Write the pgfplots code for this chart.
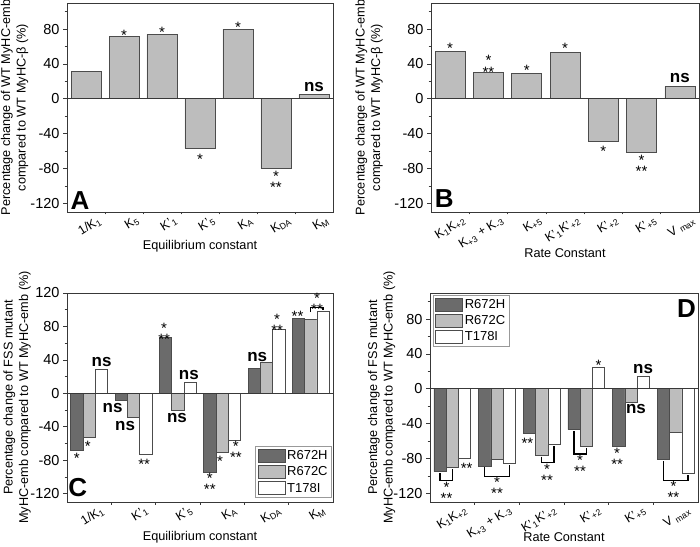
\documentclass[border=0pt]{standalone}
\usepackage{fontspec}
\setmainfont{Liberation Sans}
\usepackage{pgfplots}
\pgfplotsset{compat=1.18}

\definecolor{dk}{gray}{0.42}
\definecolor{lt}{gray}{0.74}
\definecolor{edge}{gray}{0.30}
\definecolor{frame}{gray}{0.22}

\newcommand{\sub}[1]{\textsubscript{#1}}

\tikzset{
  s1/.style={font=\fontsize{15}{15}\selectfont, inner sep=0pt, yshift=-3.2pt},
  s3/.style={font=\fontsize{15}{7.5}\selectfont, inner sep=0pt, align=center, yshift=-3.2pt},
  nsl/.style={font=\fontsize{17}{17}\selectfont\bfseries, inner sep=0pt},
  letter/.style={font=\fontsize{26}{26}\selectfont\bfseries, inner sep=0pt},
  brk/.style={black, line width=1.3pt},
}

\pgfplotsset{
  panel/.style={
    scale only axis, height=209pt, clip=false,
    axis line style={draw=frame, line width=0.8pt},
    tick pos=left, tick align=outside,
    major tick length=4pt, minor tick length=2.5pt,
    xtick style={draw=none},
    minor x tick style={draw=frame, line width=0.7pt},
    ytick style={draw=frame, line width=0.7pt},
    minor y tick style={draw=frame, line width=0.7pt},
    xticklabel style={font=\fontsize{12.5}{12.5}\selectfont, yshift=2.5pt, rotate=32, anchor=north east, inner sep=1pt},
    yticklabel style={font=\fontsize{14.5}{15}\selectfont},
    /pgf/number format/assume math mode=true,
    label style={font=\fontsize{12.7}{15.5}\selectfont},
    ylabel style={align=center, at={(axis description cs:-0.19,0.5)}, anchor=center},
    xlabel style={anchor=center},
  },
  tall/.style={ymin=-130, ymax=110,
    ytick={-120,-80,-40,0,40,80}, minor ytick={-100,-60,-20,20,60,100}},
  single/.style={ybar, bar width=30pt},
  triple/.style={ybar=0pt, bar width=12.3pt,
    legend image code/.code={\draw[##1] (0pt,-6.5pt) rectangle (27pt,6.5pt);},
    legend style={draw=gray!80, line width=0.6pt, fill=white, inner sep=2pt,
      font=\fontsize{13}{14}\selectfont, row sep=1.5pt, cells={anchor=west}}},
}

\begin{document}
\begin{tikzpicture}[x=1pt,y=1pt]
\path[use as bounding box] (0,0) rectangle (700,546);

% ---------------- A ----------------
\begin{axis}[panel, tall, single, at={(67pt,334pt)}, anchor=south west, width=266pt,
  xmin=0.5, xmax=7.5, xtick={1.3,2.3,...,7.3}, minor xtick={1.5,2.5,...,6.5},
  xticklabels={1/K\sub{1}, K\sub{5}, K'\sub{1}, K'\sub{5}, K\sub{A}, K\sub{DA}, K\sub{M}},
  xlabel={Equilibrium constant}, xlabel style={at={(axis description cs:0.5,-0.163)}},
  ylabel={Percentage change of WT MyHC-emb\\compared to WT MyHC-β (\%)},
  ylabel style={at={(axis description cs:-0.197,0.5)}}]
\addplot[fill=lt, draw=edge, line width=0.6pt] coordinates {(1,31) (2,72) (3,74) (4,-57) (5,80) (6,-80) (7,5)};
\draw[frame, line width=0.8pt] (axis cs:0.5,0) -- (axis cs:7.5,0);
\node[s1] at (axis cs:2,77) {*};
\node[s1] at (axis cs:3,80) {*};
\node[s1] at (axis cs:4,-66) {*};
\node[s1] at (axis cs:5,85.5) {*};
\node[s3] at (axis cs:6,-91.5) {*\\**};
\node[nsl] at (axis cs:7,14) {ns};
\node[letter] at (rel axis cs:0.049,0.057) {A};
\end{axis}

% ---------------- B ----------------
\begin{axis}[panel, tall, single, at={(431pt,334pt)}, anchor=south west, width=268pt,
  xmin=0.5, xmax=7.5, xtick={1.3,2.3,...,7.3}, minor xtick={1.5,2.5,...,6.5},
  xticklabels={K\sub{1}K\sub{+2}, K\sub{+3} + K\sub{-3}, K\sub{+5}, K'\sub{1}K'\sub{+2}, K'\sub{+2}, K'\sub{+5}, V \sub{max}},
  xlabel={Rate Constant}, xlabel style={at={(axis description cs:0.5,-0.196)}},
  ylabel={Percentage change of WT MyHC-emb\\compared to WT MyHC-β (\%)},
  ylabel style={at={(axis description cs:-0.231,0.5)}}]
\addplot[fill=lt, draw=edge, line width=0.6pt] coordinates {(1,54) (2,30) (3,29) (4,53) (5,-49) (6,-62) (7,14)};
\draw[frame, line width=0.8pt] (axis cs:0.5,0) -- (axis cs:7.5,0);
\node[s1] at (axis cs:1,62) {*};
\node[s3] at (axis cs:2,41) {*\\**};
\node[s1] at (axis cs:3,36) {*};
\node[s1] at (axis cs:4,62) {*};
\node[s1] at (axis cs:5,-57) {*};
\node[s3] at (axis cs:6,-73) {*\\**};
\node[nsl] at (axis cs:7,24) {ns};
\node[letter] at (rel axis cs:0.049,0.062) {B};
\end{axis}

% ---------------- C ----------------
\begin{axis}[panel, triple, at={(67pt,44pt)}, anchor=south west, width=266pt,
  ymin=-130, ymax=120, ytick={-120,-80,...,120}, minor ytick={-100,-60,...,100},
  xmin=0.5, xmax=6.5, xtick={1.25,2.25,...,6.25}, minor xtick={1.5,2.5,...,5.5},
  xticklabels={1/K\sub{1}, K'\sub{1}, K'\sub{5}, K\sub{A}, K\sub{DA}, K\sub{M}},
  xlabel={Equilibrium constant}, xlabel style={at={(axis description cs:0.5,-0.167)}},
  ylabel={Percentage change of FSS mutant\\MyHC-emb compared to WT MyHC-emb (\%)},
  ylabel style={at={(axis description cs:-0.188,0.5)}},
  legend style={at={(rel axis cs:0.996,0.02)}, anchor=south east}]
\addplot[fill=dk, draw=edge, line width=0.6pt] coordinates {(1,-68) (2,-8) (3,67) (4,-94) (5,30) (6,90)};
\addplot[fill=lt, draw=edge, line width=0.6pt] coordinates {(1,-53) (2,-29) (3,-20) (4,-70) (5,37) (6,88)};
\addplot[fill=white, draw=edge, line width=0.6pt] coordinates {(1,29) (2,-73) (3,13) (4,-56) (5,77) (6,98)};
\legend{R672H, R672C, T178I}
\draw[frame, line width=0.8pt] (axis cs:0.5,0) -- (axis cs:6.5,0);
\node[s1] at (axis cs:0.72,-74) {*};
\node[s1] at (axis cs:0.97,-59) {*};
\node[nsl] at (axis cs:1.28,38) {ns};
\node[nsl] at (axis cs:1.53,-17) {ns};
\node[nsl] at (axis cs:1.81,-39.5) {ns};
\node[s1] at (axis cs:2.24,-81) {**};
\node[s3] at (axis cs:2.69,75) {*\\**};
\node[nsl] at (axis cs:2.98,-30) {ns};
\node[nsl] at (axis cs:3.25,22) {ns};
\node[s3] at (axis cs:3.72,-104.5) {*\\**};
\node[s1] at (axis cs:3.95,-78) {*};
\node[s3] at (axis cs:4.31,-66.5) {*\\**};
\node[nsl] at (axis cs:4.79,43) {ns};
\node[s3] at (axis cs:5.24,85.5) {*\\**};
\node[s1] at (axis cs:5.7,96) {**};
\draw[brk] (axis cs:6.0,97) -- (axis cs:6.0,102.5) -- (axis cs:6.277,102.5) -- (axis cs:6.277,100);
\node[s3] at (axis cs:6.14,111) {*\\**};
\node[letter] at (rel axis cs:0.04,0.067) {C};
\end{axis}

% ---------------- D ----------------
\begin{axis}[panel, tall, triple, at={(430pt,44pt)}, anchor=south west, width=268pt,
  xmin=0.5, xmax=6.5, xtick={1.25,2.25,...,6.25}, minor xtick={1.5,2.5,...,5.5},
  xticklabels={K\sub{1}K\sub{+2}, K\sub{+3} + K\sub{-3}, K'\sub{1}K'\sub{+2}, K'\sub{+2}, K'\sub{+5}, V \sub{max}},
  xlabel={Rate Constant}, xlabel style={at={(axis description cs:0.5,-0.17)}},
  ylabel={Percentage change of FSS mutant\\MyHC-emb compared to WT MyHC-emb (\%)},
  ylabel style={at={(axis description cs:-0.181,0.5)}},
  legend style={at={(rel axis cs:0.011,0.99)}, anchor=north west}]
\addplot[fill=dk, draw=edge, line width=0.6pt] coordinates {(1,-95) (2,-88.5) (3,-51) (4,-47) (5,-66) (6,-81)};
\addplot[fill=lt, draw=edge, line width=0.6pt] coordinates {(1,-90) (2,-80.5) (3,-76) (4,-66) (5,-16) (6,-50)};
\addplot[fill=white, draw=edge, line width=0.6pt] coordinates {(1,-80) (2,-85.5) (3,-64) (4,25) (5,14) (6,-97)};
\legend{R672H, R672C, T178I}
\draw[frame, line width=0.8pt] (axis cs:0.5,0) -- (axis cs:6.5,0);
\draw[brk] (axis cs:0.725,-97) -- (axis cs:0.725,-105) -- (axis cs:1.0,-105) -- (axis cs:1.0,-92);
\node[s3] at (axis cs:0.87,-115.5) {*\\**};
\node[s1] at (axis cs:1.32,-87.5) {**};
\draw[brk] (axis cs:1.725,-90) -- (axis cs:1.725,-101) -- (axis cs:2.275,-101) -- (axis cs:2.275,-87.5);
\node[s3] at (axis cs:2.0,-110) {*\\**};
\node[s1] at (axis cs:2.68,-59) {**};
\draw[brk] (axis cs:3.0,-78) -- (axis cs:3.0,-84.5) -- (axis cs:3.275,-84.5) -- (axis cs:3.275,-66);
\node[s3] at (axis cs:3.12,-95.5) {*\\**};
\draw[brk] (axis cs:3.725,-49) -- (axis cs:3.725,-75) -- (axis cs:4.0,-75) -- (axis cs:4.0,-68);
\node[s3] at (axis cs:3.86,-84.5) {*\\**};
\node[s1] at (axis cs:4.275,31) {*};
\node[s3] at (axis cs:4.69,-76.5) {*\\**};
\node[nsl] at (axis cs:5.11,-23) {ns};
\node[nsl] at (axis cs:5.27,23) {ns};
\draw[brk] (axis cs:5.725,-83) -- (axis cs:5.725,-105.5) -- (axis cs:6.275,-105.5) -- (axis cs:6.275,-99);
\node[s3] at (axis cs:5.95,-115) {*\\**};
\node[letter] at (rel axis cs:0.957,0.926) {D};
\end{axis}
\end{tikzpicture}
\end{document}
